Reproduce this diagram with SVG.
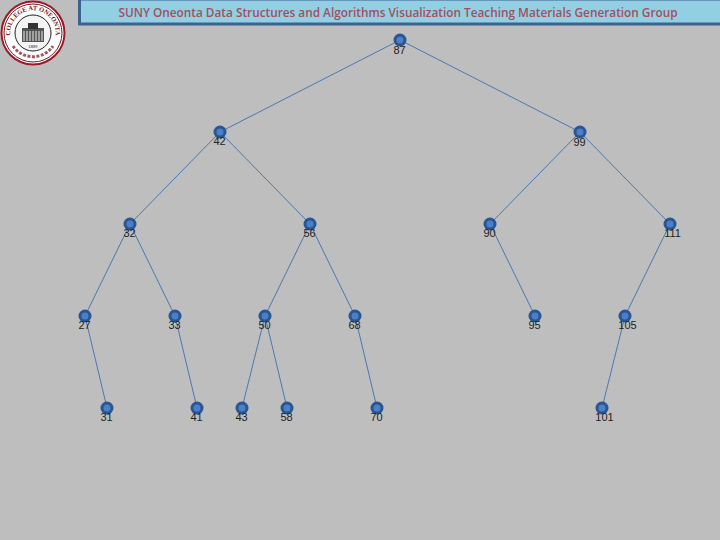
<svg xmlns="http://www.w3.org/2000/svg" width="720" height="540" viewBox="0 0 720 540">
<defs>
<style>
.e{stroke:#4a78b0;stroke-width:1;fill:none}
.o{fill:#2a5590}
.i{fill:#4a80c8}
.l{font-family:"Liberation Sans",Arial,sans-serif;font-size:11px;fill:#222;text-anchor:middle}
.s{font-family:"Liberation Serif",serif;font-weight:bold;fill:#7a1420}
</style>
<g id="n"><circle class="o" r="6.500"/><circle class="i" r="3.500"/></g>
<path id="ringTop" d="M16 48 A22.700 22.700 0 1 1 50 48"/>
</defs>
<rect width="720" height="540" fill="#bebebe"/>
<g id="banner">
<rect x="79.500" y="-1" width="642" height="25" fill="#93cfe2" stroke="#3c6390" stroke-width="3"/>
<text x="398" y="17" text-anchor="middle" font-family="'Open Sans','Noto Sans',sans-serif" font-size="11.800" font-weight="600" fill="#a05060">SUNY Oneonta Data Structures and Algorithms Visualization Teaching Materials Generation Group</text>
</g>
<g id="seal">
<circle cx="33" cy="33" r="31.500" fill="#fff" stroke="#9a1a28" stroke-width="2"/>
<circle cx="33" cy="33" r="29" fill="none" stroke="#7a1420" stroke-width="1"/>
<circle cx="33" cy="33" r="18" fill="#f4f4f4" stroke="#222" stroke-width="1"/>
<rect x="22" y="28" width="22" height="14" fill="#555"/>
<rect x="28" y="23" width="10" height="6" fill="#333"/>
<path d="M24 31v10M27 31v10M30 31v10M33 31v10M36 31v10M39 31v10M42 31v10" stroke="#eee" stroke-width="1"/>
<text class="s" font-size="6.500"><textPath href="#ringTop" startOffset="50%" text-anchor="middle">COLLEGE AT ONEONTA</textPath></text>
<path d="M13 46 A24 24 0 0 0 53 46" fill="none" stroke="#7a1420" stroke-width="3" stroke-dasharray="3 1.500" opacity=".7"/>
<text x="33" y="48" text-anchor="middle" font-family="'Liberation Sans',sans-serif" font-size="4" fill="#222">1889</text>
</g>
<g id="connectors">
<path class="e" d="M400 40L220 132M400 40L580 132M220 132L130 224M220 132L310 224M580 132L490 224M580 132L670 224M130 224L85 316M130 224L175 316M310 224L265 316M310 224L355 316M490 224L535 316M670 224L625 316M85 316L107 408M175 316L197 408M265 316L242 408M265 316L287 408M355 316L377 408M625 316L602 408"/>
</g>
<g id="node-87"><use href="#n" x="400" y="40"/><text class="l" x="399.500" y="54">87</text></g>
<g id="node-42"><use href="#n" x="220" y="132"/><text class="l" x="219.500" y="145">42</text></g>
<g id="node-99"><use href="#n" x="580" y="132"/><text class="l" x="579.500" y="146">99</text></g>
<g id="node-32"><use href="#n" x="130" y="224"/><text class="l" x="129.500" y="237">32</text></g>
<g id="node-56"><use href="#n" x="310" y="224"/><text class="l" x="309.500" y="237">56</text></g>
<g id="node-90"><use href="#n" x="490" y="224"/><text class="l" x="489.500" y="237">90</text></g>
<g id="node-111"><use href="#n" x="670" y="224"/><text class="l" x="672.500" y="237">111</text></g>
<g id="node-27"><use href="#n" x="85" y="316"/><text class="l" x="84.500" y="329">27</text></g>
<g id="node-33"><use href="#n" x="175" y="316"/><text class="l" x="174.500" y="329">33</text></g>
<g id="node-50"><use href="#n" x="265" y="316"/><text class="l" x="264.500" y="329">50</text></g>
<g id="node-68"><use href="#n" x="355" y="316"/><text class="l" x="354.500" y="329">68</text></g>
<g id="node-95"><use href="#n" x="535" y="316"/><text class="l" x="534.500" y="329">95</text></g>
<g id="node-105"><use href="#n" x="625" y="316"/><text class="l" x="627.500" y="329">105</text></g>
<g id="node-31"><use href="#n" x="107" y="408"/><text class="l" x="106.500" y="421">31</text></g>
<g id="node-41"><use href="#n" x="197" y="408"/><text class="l" x="196.500" y="421">41</text></g>
<g id="node-43"><use href="#n" x="242" y="408"/><text class="l" x="241.500" y="421">43</text></g>
<g id="node-58"><use href="#n" x="287" y="408"/><text class="l" x="286.500" y="421">58</text></g>
<g id="node-70"><use href="#n" x="377" y="408"/><text class="l" x="376.500" y="421">70</text></g>
<g id="node-101"><use href="#n" x="602" y="408"/><text class="l" x="604.500" y="421">101</text></g>
</svg>
